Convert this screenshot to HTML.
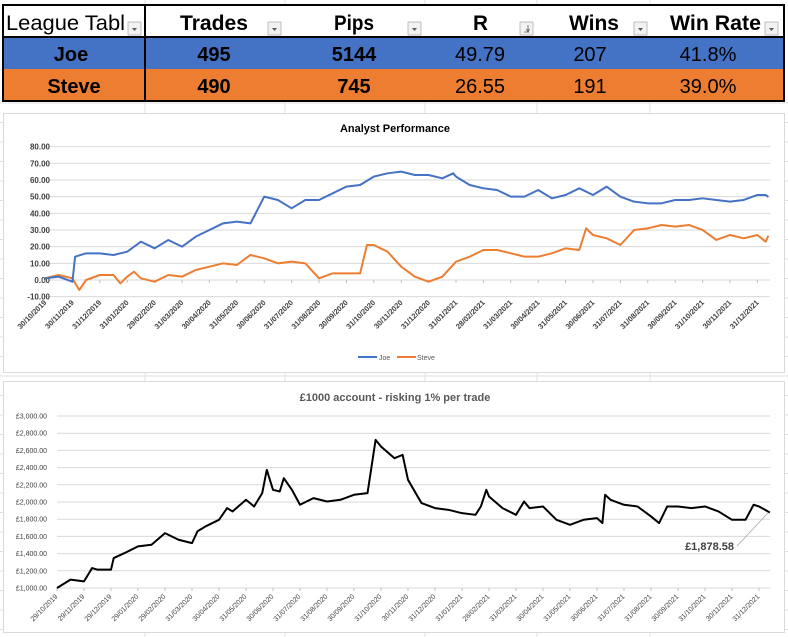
<!DOCTYPE html>
<html><head><meta charset="utf-8"><style>
html,body{margin:0;padding:0;background:#fff;width:788px;height:637px;overflow:hidden}
svg{display:block;font-family:"Liberation Sans",sans-serif}
</style></head><body>
<svg id="root" width="788" height="637" viewBox="0 0 788 637">
<g id="sheetgrid" stroke="#e0e0e0" stroke-width="1"></g>

<!-- League table -->
<g>
  <rect x="3" y="37" width="781" height="32" fill="#4472C4"/>
  <rect x="3" y="69" width="781" height="32" fill="#ED7D31"/>
  <rect x="0" y="5" width="788" height="32" fill="#fff"/>
  <rect x="3" y="5" width="781" height="96" fill="none" stroke="#000" stroke-width="2"/>
  <line x1="3" y1="37" x2="784" y2="37" stroke="#000" stroke-width="2"/>
  <line x1="145" y1="5" x2="145" y2="101" stroke="#000" stroke-width="2"/>
  <g font-size="21" fill="#000">
    <text x="6" y="30" textLength="119" lengthAdjust="spacingAndGlyphs">League Tabl</text>
    <text x="180" y="30" font-weight="bold" textLength="68" lengthAdjust="spacingAndGlyphs">Trades</text>
    <text x="334" y="30" font-weight="bold" textLength="40" lengthAdjust="spacingAndGlyphs">Pips</text>
    <text x="473" y="30" font-weight="bold" textLength="15" lengthAdjust="spacingAndGlyphs">R</text>
    <text x="569" y="30" font-weight="bold" textLength="50" lengthAdjust="spacingAndGlyphs">Wins</text>
    <text x="670" y="30" font-weight="bold" textLength="91" lengthAdjust="spacingAndGlyphs">Win Rate</text>
  </g>
  <g id="dropdowns"></g>
  <g font-size="20" fill="#000" text-anchor="middle">
    <text x="71" y="61" font-weight="bold">Joe</text>
    <text x="214" y="61" font-weight="bold">495</text>
    <text x="354" y="61" font-weight="bold">5144</text>
    <text x="480" y="61">49.79</text>
    <text x="590" y="61">207</text>
    <text x="708" y="61">41.8%</text>
    <text x="74" y="93" font-weight="bold">Steve</text>
    <text x="214" y="93" font-weight="bold">490</text>
    <text x="354" y="93" font-weight="bold">745</text>
    <text x="480" y="93">26.55</text>
    <text x="590" y="93">191</text>
    <text x="708" y="93">39.0%</text>
  </g>
</g>

<!-- Chart 1 -->
<g>
  <rect x="3.5" y="113.5" width="781" height="259" fill="#fff" stroke="#d9d9d9"/>
  <text x="395" y="132" font-size="11" font-weight="bold" text-anchor="middle" fill="#000">Analyst Performance</text>
  <g id="c1grid"></g><g id="c1x"></g><g id="c1lines"></g>
  <g>
    <line x1="358" y1="357" x2="377" y2="357" stroke="#4472C4" stroke-width="2"/>
    <text x="379" y="360" font-size="7" fill="#595959">Joe</text>
    <line x1="397" y1="357" x2="416" y2="357" stroke="#ED7D31" stroke-width="2"/>
    <text x="417" y="360" font-size="7" fill="#595959">Steve</text>
  </g>
</g>

<!-- Chart 2 -->
<g>
  <rect x="3.5" y="381.5" width="781" height="251" fill="#fff" stroke="#d9d9d9"/>
  <text x="395" y="401" font-size="11" font-weight="bold" text-anchor="middle" fill="#595959">£1000 account - risking 1% per trade</text>
  <g id="c2grid"></g><g id="c2x"></g><g id="c2lines"></g>
  <line x1="737" y1="546" x2="768" y2="513" stroke="#a6a6a6" stroke-width="0.8"/>
  <text x="734" y="550" font-size="11" font-weight="bold" text-anchor="end" fill="#404040">£1,878.58</text>
</g>
</svg>
<script>
// ---- Chart 1 data ----
const c1Ticks = ["30/10/2019","30/11/2019","31/12/2019","31/01/2020","29/02/2020","31/03/2020","30/04/2020","31/05/2020","30/06/2020","31/07/2020","31/08/2020","30/09/2020","31/10/2020","30/11/2020","31/12/2020","31/01/2021","28/02/2021","31/03/2021","30/04/2021","31/05/2021","30/06/2021","31/07/2021","31/08/2021","30/09/2021","31/10/2021","30/11/2021","31/12/2021"];
const c1YTicks = [-10,0,10,20,30,40,50,60,70,80];
const joeMonths = [0,0.5,1,1.1,1.5,2,2.5,3,3.5,4,4.5,5,5.5,6,6.5,7,7.5,8,8.5,9,9.5,10,10.5,11,11.5,12,12.5,13,13.5,14,14.5,14.9,15,15.5,16,16.5,17,17.5,18,18.5,19,19.5,20,20.5,21,21.5,22,22.5,23,23.5,24,24.5,25,25.5,26,26.3,26.4];
const joeValues = [1,2,-1,14,16,16,15,17,23,19,24,20,26,30,34,35,34,50,48,43,48,48,52,56,57,62,64,65,63,63,61,64,62,57,55,54,50,50,54,49,51,55,51,56,50,47,46,46,48,48,49,48,47,48,51,51,49.79];
const steveMonths = [0,0.5,1,1.25,1.5,2,2.5,2.75,3,3.25,3.5,4,4.5,5,5.5,6,6.5,7,7.5,8,8.5,9,9.5,10,10.5,11,11.5,11.75,12,12.5,13,13.5,14,14.5,15,15.5,16,16.5,17,17.5,18,18.5,19,19.5,19.75,20,20.5,21,21.5,22,22.5,23,23.5,24,24.5,25,25.5,26,26.3,26.4];
const steveValues = [1,3,1,-6,0,3,3,-2,2,5,1,-1,3,2,6,8,10,9,15,13,10,11,10,1,4,4,4,21,21,17,8,2,-1,2,11,14,18,18,16,14,14,16,19,18,31,27,25,21,30,31,33,32,33,30,24,27,25,27,23,26.55];
// ---- Chart 2 data ----
const c2Ticks = ["29/10/2019","29/11/2019","29/12/2019","29/01/2020","29/02/2020","31/03/2020","30/04/2020","31/05/2020","30/06/2020","31/07/2020","31/08/2020","30/09/2020","31/10/2020","30/11/2020","31/12/2020","31/01/2021","28/02/2021","31/03/2021","30/04/2021","31/05/2021","30/06/2021","31/07/2021","31/08/2021","30/09/2021","31/10/2021","30/11/2021","31/12/2021"];
const c2YTicks = [1000,1200,1400,1600,1800,2000,2200,2400,2600,2800,3000];
const accMonths = [0,0.5,1,1.3,1.5,2,2.1,2.5,3,3.5,4,4.5,5,5.2,5.5,6,6.3,6.5,7,7.3,7.6,7.77,8,8.25,8.4,8.7,9,9.5,10,10.5,11,11.5,11.65,11.8,12,12.5,12.8,13,13.5,14,14.5,15,15.5,15.7,15.9,16,16.5,17,17.3,17.5,18,18.5,19,19.5,20,20.2,20.3,20.5,21,21.5,22,22.3,22.6,23,23.5,24,24.5,25,25.5,25.8,26,26.4];
const accValues = [1000,1097,1077,1232,1213,1213,1348,1406,1484,1503,1638,1561,1522,1658,1716,1793,1929,1890,2026,1948,2103,2374,2142,2122,2277,2142,1968,2045,2006,2026,2084,2103,2412,2722,2645,2509,2548,2258,1987,1929,1909,1870,1851,1948,2142,2064,1929,1851,2006,1929,1948,1793,1735,1793,1812,1755,2084,2026,1968,1948,1832,1755,1948,1948,1929,1948,1890,1793,1793,1968,1948,1878.58];

const NS="http://www.w3.org/2000/svg";
function mk(tag, attrs, parent){const e=document.createElementNS(NS,tag);for(const k in attrs)e.setAttribute(k,attrs[k]);parent.appendChild(e);return e;}

// sheet gridlines
const sg=document.getElementById('sheetgrid');
[145,285,425,537,650].forEach(x=>{const l=mk('line',{x1:x,y1:0,x2:x,y2:637},sg);

});
for(let y=103;y<637;y+=19.5){const l=mk('line',{x1:0,y1:y,x2:788,y2:y},sg);

}

// dropdown buttons
const dd=document.getElementById('dropdowns');
[128,268,408,520,634,765].forEach((x,i)=>{const g=mk('g',{},dd);


mk('rect',{x:x,y:22,width:13,height:13,fill:'#f2f2f2',stroke:'#a6a6a6','stroke-width':0.7},g);
if(i===3){mk('path',{d:`M${x+8} 25 V32 M${x+4} 32 H${x+9} M${x+6.5} 29 L${x+8} 32 L${x+9.5} 29`,stroke:'#595959','stroke-width':0.8,fill:'none'},g);}
else mk('path',{d:`M${x+4} 28 L${x+9} 28 L${x+6.5} 31 Z`,fill:'#595959'},g);});

// ---- chart 1 ----
const x1=m=>45+m*27.4, y1=v=>280-v*1.667;
const g1=document.getElementById('c1grid');
c1YTicks.forEach(v=>{const l=mk('line',{x1:45,y1:y1(v),x2:770,y2:y1(v),stroke:'#d9d9d9','stroke-width':1},g1);


const t=mk('text',{x:50,y:y1(v)+3,'font-size':8,'font-weight':'bold','text-anchor':'end',fill:'#404040'},g1);
t.textContent=v.toFixed(2);

});
const gx1=document.getElementById('c1x');
c1Ticks.forEach((d,i)=>{const x=x1(i);
mk('line',{x1:x,y1:280,x2:x,y2:283,stroke:'#bfbfbf'},gx1);
const t=mk('text',{x:x+2,y:303,'font-size':7.5,'font-weight':'bold','text-anchor':'end',fill:'#404040',transform:`rotate(-45 ${x+2} 303)`},gx1);
t.textContent=d;

});
const l1=document.getElementById('c1lines');
const sp=mk('polyline',{points:steveMonths.map((m,i)=>x1(m)+','+y1(steveValues[i])).join(' '),fill:'none',stroke:'#ED7D31','stroke-width':2,'stroke-linejoin':'round'},l1);


const jp=mk('polyline',{points:joeMonths.map((m,i)=>x1(m)+','+y1(joeValues[i])).join(' '),fill:'none',stroke:'#4472C4','stroke-width':2,'stroke-linejoin':'round'},l1);



// ---- chart 2 ----
const x2=m=>57+m*27.0, y2=v=>588-(v-1000)*0.086;
const g2=document.getElementById('c2grid');
c2YTicks.forEach(v=>{const l=mk('line',{x1:57,y1:y2(v),x2:770,y2:y2(v),stroke:'#d9d9d9','stroke-width':1},g2);


const t=mk('text',{x:47,y:y2(v)+2.5,'font-size':7,'text-anchor':'end',fill:'#404040'},g2);
t.textContent='£'+v.toLocaleString('en-GB')+'.00';

});
const gx2=document.getElementById('c2x');
c2Ticks.forEach((d,i)=>{const x=x2(i);
mk('line',{x1:x,y1:588,x2:x,y2:591,stroke:'#bfbfbf'},gx2);
const t=mk('text',{x:x+1,y:597,'font-size':7,'text-anchor':'end',fill:'#404040',transform:`rotate(-45 ${x+1} 597)`},gx2);
t.textContent=d;

});
const l2=document.getElementById('c2lines');
const ap=mk('polyline',{points:accMonths.map((m,i)=>x2(m)+','+y2(accValues[i])).join(' '),fill:'none',stroke:'#000','stroke-width':2,'stroke-linejoin':'round'},l2);


</script>
</body></html>
